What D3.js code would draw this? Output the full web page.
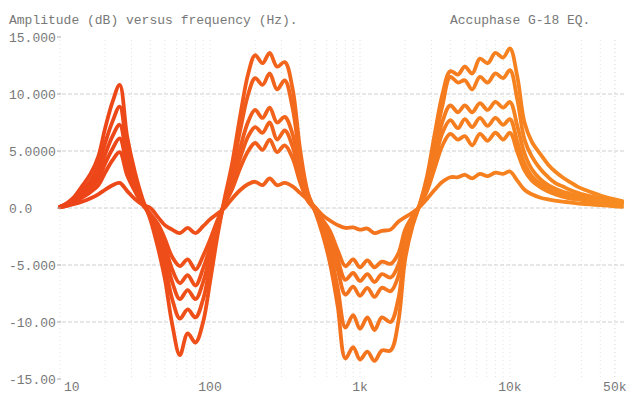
<!DOCTYPE html>
<html><head><meta charset="utf-8">
<script src="https://cdn.jsdelivr.net/npm/d3@7/dist/d3.min.js"></script>
<style>html,body{margin:0;padding:0;background:#fff;} svg{display:block}</style>
</head><body><svg id="c" width="629" height="394"></svg>
<script>
// Frequencies (Hz), 1/6-octave grid
const freqs = [10, 11.2, 12.5, 14, 16, 18, 20, 22.4, 25, 28,
  31.5, 35.5, 40, 45, 50, 56, 63, 71, 80, 90,
  100, 112, 125, 140, 160, 180, 200, 224, 250, 280,
  315, 355, 400, 450, 500, 560, 630, 710, 800, 900,
  1000, 1120, 1250, 1400, 1600, 1800, 2000, 2240, 2500, 2800,
  3150, 3550, 4000, 4500, 5000, 5600, 6300, 7100, 8000, 9000,
  10000, 11200, 12500, 14000, 16000, 18000, 20000, 22400, 25000, 28000,
  31500, 35500, 40000, 45000, 50000, 56000];

// Amplitude (dB) of each response curve
const curve1 = [0.1, 0.45, 1.0, 1.9, 3.0, 4.5, 7.0, 9.3, 10.8, 6.3, 3.2, 0.8, -1.0,
  -3.5, -6.2, -10.2, -12.9, -11.0, -11.8, -10.0, -6.5, -2.5, 0.8,
  3.8, 8.3, 11.8, 13.4, 12.7, 13.6, 12.4, 12.8, 10.5, 5.0, 1.3, -0.2,
  -2.2, -4.8, -8.6, -13.2, -12.2, -13.3, -12.6, -13.4, -12.5, -12.5, -10.0, -4.5, -1.6,
  0.3, 2.8, 6.5, 10.0, 12.0, 11.7, 12.4, 11.8, 13.1, 12.7, 13.6, 13.2, 14.0, 11.5, 7.5, 5.8,
  4.7, 3.8, 3.2, 2.7, 2.3, 1.9, 1.6, 1.35, 1.1, 0.9, 0.75, 0.6];
const curve2 = [0.1, 0.4, 0.8, 1.5, 2.4, 3.7, 5.7, 7.6, 8.9, 5.2, 2.6, 0.6, -0.8,
  -2.6, -5.0, -8.0, -9.7, -8.9, -9.6, -8.0, -5.2, -2.0, 0.6,
  3.2, 7.0, 10.0, 11.4, 10.8, 11.8, 10.4, 11.2, 8.8, 4.2, 1.2, -0.2,
  -1.8, -3.8, -7.0, -10.5, -9.4, -10.6, -9.6, -10.7, -9.6, -10.0, -8.0, -3.6, -1.3,
  0.3, 2.5, 5.8, 9.0, 11.5, 11.0, 11.2, 10.4, 11.5, 11.0, 11.8, 11.4, 12.1, 9.5, 6.0, 4.5,
  3.4, 2.7, 2.2, 1.9, 1.6, 1.35, 1.15, 1.0, 0.85, 0.7, 0.6, 0.5];
const curve3 = [0.1, 0.3, 0.7, 1.3, 2.0, 3.0, 4.7, 6.3, 7.3, 4.3, 2.1, 0.5, -0.7,
  -2.1, -4.0, -6.5, -8.0, -7.2, -8.0, -6.5, -4.2, -1.6, 0.5,
  2.4, 5.4, 7.6, 8.6, 7.9, 8.8, 7.5, 8.0, 6.5, 3.2, 0.9, -0.2,
  -1.4, -3.0, -5.4, -7.6, -6.9, -7.7, -7.0, -7.8, -7.0, -7.3, -6.0, -2.8, -1.0,
  0.2, 2.0, 4.8, 7.6, 9.0, 8.4, 9.0, 8.4, 9.2, 8.6, 9.3, 8.8, 9.3, 7.2, 4.8, 3.4,
  2.5, 2.0, 1.7, 1.45, 1.25, 1.05, 0.9, 0.8, 0.7, 0.6, 0.5, 0.45];
const curve4 = [0.1, 0.25, 0.6, 1.1, 1.7, 2.5, 3.9, 5.2, 6.1, 3.6, 1.8, 0.4, -0.6,
  -1.7, -3.3, -5.4, -6.6, -5.9, -6.8, -5.3, -3.5, -1.3, 0.4,
  2.0, 4.5, 6.3, 7.1, 6.6, 7.5, 6.0, 6.8, 5.4, 2.7, 0.8, -0.1,
  -1.2, -2.5, -4.5, -6.3, -5.7, -6.4, -5.8, -6.5, -5.8, -6.1, -5.0, -2.3, -0.8,
  0.2, 1.8, 4.2, 6.6, 7.7, 7.0, 7.8, 7.1, 7.9, 7.2, 7.9, 7.3, 7.8, 5.8, 3.9, 2.8,
  2.1, 1.7, 1.4, 1.2, 1.0, 0.85, 0.75, 0.65, 0.55, 0.5, 0.45, 0.4];
const curve5 = [0.1, 0.2, 0.5, 0.9, 1.4, 2.0, 3.1, 4.2, 4.9, 2.9, 1.5, 0.3, -0.5,
  -1.4, -2.7, -4.3, -5.1, -4.5, -5.4, -4.2, -2.8, -1.1, 0.3,
  1.6, 3.6, 5.0, 5.7, 5.1, 6.0, 4.9, 5.5, 4.4, 2.2, 0.6, -0.1,
  -1.0, -2.0, -3.7, -5.1, -4.5, -5.2, -4.6, -5.2, -4.7, -4.9, -4.0, -1.9, -0.7,
  0.2, 1.5, 3.5, 5.5, 6.5, 6.0, 6.3, 5.5, 6.5, 5.9, 6.6, 6.0, 6.6, 4.9, 3.3, 2.4,
  1.8, 1.45, 1.2, 1.0, 0.85, 0.75, 0.65, 0.55, 0.5, 0.45, 0.4, 0.35];
const curve6 = [0.05, 0.2, 0.35, 0.55, 0.85, 1.2, 1.6, 2.0, 2.2, 1.5, 0.8, 0.3, 0.0,
  -0.8, -1.5, -1.9, -2.2, -1.75, -2.2, -1.6, -1.0, -0.5, 0.0,
  0.8, 1.6, 2.1, 2.3, 2.0, 2.6, 2.0, 2.2, 1.9, 1.3, 0.7, 0.1,
  -0.6, -1.1, -1.5, -1.75, -1.7, -1.9, -1.8, -2.2, -2.0, -1.9, -1.2, -0.8, -0.4,
  0.1, 0.8, 1.6, 2.3, 2.7, 2.7, 2.9, 2.6, 3.0, 2.8, 3.1, 3.0, 3.2, 2.4, 1.6, 1.2,
  0.9, 0.75, 0.65, 0.55, 0.5, 0.4, 0.35, 0.3, 0.25, 0.2, 0.15, 0.1];

const yTicks = [15, 10, 5, 0, -5, -10, -15];
const yTickLabels = ["15.000", "10.000", "5.0000", "0.0", "-5.000", "-10.00", "-15.00"];
const xTicks = [10, 100, 1000, 10000, 50000];
const xTickLabels = ["10", "100", "1k", "10k", "50k"];
const titleText = "Amplitude (dB) versus frequency (Hz).";
const subtitleText = "Accuphase G-18 EQ.";

const series = [curve6, curve5, curve4, curve3, curve2, curve1];

const svg = d3.select("#c");
const x = d3.scaleLog().domain([10, 50000]).range([60, 614.8]);
const y = d3.scaleLinear().domain([-15, 15]).range([379, 37]);
const font = "'Liberation Mono', 'DejaVu Sans Mono', monospace";
const textCol = "#787878";

// gradient for curves
const defs = svg.append("defs");
const grad = defs.append("linearGradient").attr("id", "og")
  .attr("gradientUnits", "userSpaceOnUse").attr("x1", 60).attr("x2", 625).attr("y1", 0).attr("y2", 0);
[[0, "#ec4218"], [0.28, "#ef5219"], [0.45, "#f36f1d"], [1, "#f78c20"]].forEach(s =>
  grad.append("stop").attr("offset", s[0]).attr("stop-color", s[1]));

// vertical grid (minor, dotted)
const vGrid = [];
for (let d = 10; d <= 10000; d *= 10) for (let m = 1; m < 10; m++) { const v = d * m; if (v <= 50000) vGrid.push(v); }
vGrid.push(50000);
svg.append("g").selectAll("line").data(vGrid).join("line")
  .attr("x1", d => x(d)).attr("x2", d => x(d)).attr("y1", 40).attr("y2", 378)
  .attr("stroke", "#e2e2e2").attr("stroke-width", 1).attr("stroke-dasharray", "1,3");

// horizontal grid
svg.append("g").selectAll("line").data(yTicks.filter(v => Math.abs(v) < 15)).join("line")
  .attr("x1", 62).attr("x2", 625).attr("y1", d => y(d)).attr("y2", d => y(d))
  .attr("stroke", "#cfcfcf").attr("stroke-width", 1).attr("stroke-dasharray", "4,2");

// curves
const line = d3.line().x((d, i) => x(freqs[i])).y(d => y(d)).curve(d3.curveCatmullRom.alpha(0.5));
svg.append("g").selectAll("path").data(series).join("path")
  .attr("d", d => line(d)).attr("fill", "none").attr("stroke", "url(#og)")
  .attr("stroke-width", 3.8).attr("stroke-linejoin", "round").attr("stroke-linecap", "round");

// y tick labels
const yg = svg.append("g");
yg.selectAll("text").data(yTicks).join("text")
  .attr("x", 9).attr("y", d => y(d)).attr("dy", "0.35em")
  .attr("font-family", font).attr("font-size", 13).attr("fill", textCol)
  .text((d, i) => yTickLabels[i]);
yg.selectAll("line").data(yTicks).join("line")
  .attr("x1", 57).attr("x2", 61).attr("y1", d => y(d)).attr("y2", d => y(d))
  .attr("stroke", "#a8a8a8").attr("stroke-width", 1);

// x tick labels
svg.append("g").selectAll("text").data(xTicks).join("text")
  .attr("x", (d, i) => i === 0 ? x(d) + 4 : x(d))
  .attr("y", 386).attr("dy", "0.35em")
  .attr("text-anchor", (d, i) => i === 0 ? "start" : "middle")
  .attr("font-family", font).attr("font-size", 13).attr("fill", textCol)
  .text((d, i) => xTickLabels[i]);

// titles
svg.append("text").attr("x", 9).attr("y", 19).attr("dy", "0.35em")
  .attr("font-family", font).attr("font-size", 13).attr("fill", textCol).text(titleText);
svg.append("text").attr("x", 450).attr("y", 19).attr("dy", "0.35em")
  .attr("font-family", font).attr("font-size", 13).attr("fill", textCol).text(subtitleText);
</script></body></html>
